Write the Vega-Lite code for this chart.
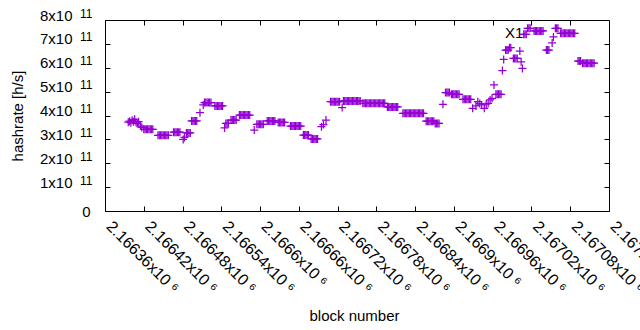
{
"$schema": "https://vega.github.io/schema/vega-lite/v6.json",
"width": 504, "height": 191,
"autosize": {"type": "none"},
"padding": {"left": 105, "top": 20, "right": 31, "bottom": 119},
"config": {
 "view": {"stroke": "black", "strokeWidth": 1},
 "font": "Liberation Sans",
 "axis": {"domain": false, "grid": false, "labelColor": "black", "tickColor": "black", "labelFont": "Liberation Sans", "titleFont": "Liberation Sans", "labelFontSize": 15, "titleFontSize": 15, "titleFontWeight": "normal", "titleColor": "black", "labelOverlap": false, "labelFlush": false}
},
"datasets": {
 "pts": [
{"b":2166396,"h":3.72e11},{"b":2166398,"h":3.76e11},{"b":2166400,"h":3.70e11},{"b":2166402,"h":3.80e11},{"b":2166404,"h":3.74e11},{"b":2166406,"h":3.84e11},{"b":2166408,"h":3.72e11},{"b":2166410,"h":3.66e11},{"b":2166412,"h":3.74e11},
{"b":2166415,"h":3.56e11},{"b":2166417,"h":3.50e11},
{"b":2166420,"h":3.42e11},{"b":2166422,"h":3.42e11},{"b":2166424,"h":3.42e11},{"b":2166426,"h":3.42e11},{"b":2166428,"h":3.42e11},{"b":2166430,"h":3.42e11},{"b":2166432,"h":3.42e11},{"b":2166434,"h":3.42e11},
{"b":2166442,"h":3.17e11},{"b":2166444,"h":3.17e11},{"b":2166446,"h":3.17e11},{"b":2166448,"h":3.17e11},{"b":2166450,"h":3.17e11},{"b":2166452,"h":3.17e11},{"b":2166454,"h":3.17e11},{"b":2166456,"h":3.17e11},{"b":2166458,"h":3.17e11},
{"b":2166466,"h":3.30e11},{"b":2166468,"h":3.30e11},{"b":2166470,"h":3.30e11},{"b":2166472,"h":3.30e11},{"b":2166474,"h":3.30e11},{"b":2166476,"h":3.30e11},
{"b":2166481,"h":3.00e11},{"b":2166483,"h":3.08e11},
{"b":2166486,"h":3.27e11},{"b":2166488,"h":3.27e11},{"b":2166490,"h":3.27e11},{"b":2166492,"h":3.27e11},
{"b":2166494,"h":3.77e11},{"b":2166496,"h":3.77e11},{"b":2166498,"h":3.77e11},{"b":2166500,"h":3.77e11},{"b":2166502,"h":3.77e11},
{"b":2166507,"h":4.12e11},{"b":2166512,"h":4.44e11},
{"b":2166514,"h":4.54e11},{"b":2166516,"h":4.54e11},{"b":2166518,"h":4.54e11},{"b":2166520,"h":4.54e11},{"b":2166522,"h":4.54e11},{"b":2166524,"h":4.54e11},
{"b":2166530,"h":4.40e11},{"b":2166532,"h":4.40e11},{"b":2166534,"h":4.40e11},{"b":2166536,"h":4.40e11},{"b":2166538,"h":4.40e11},{"b":2166540,"h":4.40e11},{"b":2166542,"h":4.40e11},
{"b":2166545,"h":3.48e11},
{"b":2166547,"h":3.67e11},{"b":2166549,"h":3.67e11},{"b":2166551,"h":3.67e11},
{"b":2166555,"h":3.81e11},{"b":2166557,"h":3.81e11},{"b":2166559,"h":3.81e11},{"b":2166561,"h":3.81e11},{"b":2166563,"h":3.81e11},
{"b":2166568,"h":4.02e11},{"b":2166570,"h":4.02e11},{"b":2166572,"h":4.02e11},{"b":2166574,"h":4.02e11},{"b":2166576,"h":4.02e11},{"b":2166578,"h":4.02e11},{"b":2166580,"h":4.02e11},{"b":2166582,"h":4.02e11},{"b":2166584,"h":4.02e11},
{"b":2166591,"h":3.39e11},
{"b":2166595,"h":3.63e11},{"b":2166597,"h":3.63e11},{"b":2166599,"h":3.63e11},{"b":2166601,"h":3.63e11},{"b":2166603,"h":3.63e11},{"b":2166605,"h":3.63e11},
{"b":2166611,"h":3.77e11},{"b":2166613,"h":3.77e11},{"b":2166615,"h":3.77e11},{"b":2166617,"h":3.77e11},{"b":2166619,"h":3.77e11},{"b":2166621,"h":3.77e11},{"b":2166623,"h":3.77e11},
{"b":2166628,"h":3.71e11},{"b":2166630,"h":3.71e11},{"b":2166632,"h":3.71e11},{"b":2166634,"h":3.71e11},{"b":2166636,"h":3.71e11},{"b":2166638,"h":3.71e11},
{"b":2166647,"h":3.56e11},{"b":2166649,"h":3.56e11},{"b":2166651,"h":3.56e11},{"b":2166653,"h":3.56e11},{"b":2166655,"h":3.56e11},{"b":2166657,"h":3.56e11},{"b":2166659,"h":3.56e11},{"b":2166661,"h":3.56e11},{"b":2166663,"h":3.56e11},
{"b":2166667,"h":3.18e11},{"b":2166669,"h":3.18e11},{"b":2166671,"h":3.18e11},{"b":2166673,"h":3.18e11},{"b":2166675,"h":3.18e11},
{"b":2166679,"h":3.02e11},{"b":2166681,"h":3.02e11},{"b":2166683,"h":3.02e11},{"b":2166685,"h":3.02e11},{"b":2166687,"h":3.02e11},{"b":2166689,"h":3.02e11},
{"b":2166695,"h":3.53e11},{"b":2166698,"h":3.62e11},{"b":2166702,"h":3.81e11},
{"b":2166709,"h":4.58e11},{"b":2166711,"h":4.58e11},{"b":2166713,"h":4.58e11},{"b":2166715,"h":4.58e11},{"b":2166717,"h":4.58e11},{"b":2166719,"h":4.58e11},{"b":2166721,"h":4.58e11},{"b":2166723,"h":4.58e11},
{"b":2166727,"h":4.33e11},
{"b":2166729,"h":4.61e11},{"b":2166731,"h":4.61e11},{"b":2166733,"h":4.61e11},{"b":2166735,"h":4.61e11},{"b":2166737,"h":4.61e11},{"b":2166739,"h":4.61e11},{"b":2166741,"h":4.61e11},{"b":2166743,"h":4.61e11},{"b":2166745,"h":4.61e11},{"b":2166747,"h":4.61e11},{"b":2166749,"h":4.61e11},{"b":2166751,"h":4.61e11},{"b":2166753,"h":4.61e11},{"b":2166755,"h":4.61e11},
{"b":2166759,"h":4.51e11},{"b":2166761,"h":4.51e11},{"b":2166763,"h":4.51e11},{"b":2166765,"h":4.51e11},{"b":2166767,"h":4.51e11},{"b":2166769,"h":4.51e11},{"b":2166771,"h":4.51e11},{"b":2166773,"h":4.51e11},{"b":2166775,"h":4.51e11},{"b":2166777,"h":4.51e11},{"b":2166779,"h":4.51e11},{"b":2166781,"h":4.51e11},{"b":2166783,"h":4.51e11},{"b":2166785,"h":4.51e11},{"b":2166787,"h":4.51e11},{"b":2166789,"h":4.51e11},{"b":2166791,"h":4.51e11},{"b":2166793,"h":4.51e11},
{"b":2166797,"h":4.36e11},{"b":2166799,"h":4.36e11},{"b":2166801,"h":4.36e11},{"b":2166803,"h":4.36e11},{"b":2166805,"h":4.36e11},{"b":2166807,"h":4.36e11},{"b":2166809,"h":4.36e11},{"b":2166811,"h":4.36e11},{"b":2166813,"h":4.36e11},
{"b":2166821,"h":4.09e11},{"b":2166823,"h":4.09e11},{"b":2166825,"h":4.09e11},{"b":2166827,"h":4.09e11},{"b":2166829,"h":4.09e11},{"b":2166831,"h":4.09e11},{"b":2166833,"h":4.09e11},{"b":2166835,"h":4.09e11},{"b":2166837,"h":4.09e11},{"b":2166839,"h":4.09e11},{"b":2166841,"h":4.09e11},{"b":2166843,"h":4.09e11},{"b":2166845,"h":4.09e11},{"b":2166847,"h":4.09e11},{"b":2166849,"h":4.09e11},{"b":2166851,"h":4.09e11},{"b":2166853,"h":4.09e11},
{"b":2166857,"h":3.76e11},{"b":2166859,"h":3.76e11},{"b":2166861,"h":3.76e11},{"b":2166863,"h":3.76e11},{"b":2166865,"h":3.76e11},{"b":2166867,"h":3.76e11},{"b":2166869,"h":3.76e11},
{"b":2166871,"h":3.67e11},{"b":2166873,"h":3.67e11},{"b":2166875,"h":3.67e11},{"b":2166877,"h":3.67e11},
{"b":2166883,"h":4.47e11},
{"b":2166887,"h":4.96e11},{"b":2166889,"h":4.96e11},{"b":2166891,"h":4.96e11},{"b":2166893,"h":4.96e11},
{"b":2166896,"h":4.89e11},{"b":2166898,"h":4.89e11},{"b":2166900,"h":4.89e11},{"b":2166902,"h":4.89e11},{"b":2166904,"h":4.89e11},{"b":2166906,"h":4.89e11},{"b":2166908,"h":4.89e11},
{"b":2166914,"h":4.68e11},{"b":2166916,"h":4.68e11},{"b":2166918,"h":4.68e11},{"b":2166920,"h":4.68e11},{"b":2166922,"h":4.68e11},{"b":2166924,"h":4.68e11},{"b":2166926,"h":4.68e11},
{"b":2166929,"h":4.30e11},{"b":2166934,"h":4.40e11},{"b":2166937,"h":4.58e11},{"b":2166940,"h":4.50e11},{"b":2166943,"h":4.44e11},{"b":2166947,"h":4.30e11},{"b":2166950,"h":4.48e11},{"b":2166953,"h":4.51e11},{"b":2166956,"h":4.65e11},{"b":2166959,"h":4.72e11},
{"b":2166962,"h":5.28e11},
{"b":2166965,"h":4.89e11},{"b":2166967,"h":4.89e11},{"b":2166969,"h":4.89e11},{"b":2166971,"h":4.89e11},{"b":2166973,"h":4.89e11},
{"b":2166975,"h":5.88e11},{"b":2166977,"h":6.35e11},
{"b":2166980,"h":6.74e11},{"b":2166982,"h":6.74e11},{"b":2166984,"h":6.74e11},{"b":2166986,"h":6.84e11},{"b":2166988,"h":6.84e11},
{"b":2166992,"h":6.39e11},{"b":2166994,"h":6.39e11},{"b":2166996,"h":6.39e11},{"b":2166998,"h":6.39e11},
{"b":2167002,"h":6.70e11},{"b":2167004,"h":6.25e11},{"b":2167006,"h":5.97e11},
{"b":2167008,"h":7.40e11},{"b":2167010,"h":7.40e11},{"b":2167012,"h":7.40e11},
{"b":2167014,"h":7.65e11},{"b":2167016,"h":7.65e11},{"b":2167018,"h":7.65e11},
{"b":2167024,"h":7.54e11},{"b":2167026,"h":7.54e11},{"b":2167028,"h":7.54e11},{"b":2167030,"h":7.54e11},{"b":2167032,"h":7.54e11},{"b":2167034,"h":7.54e11},{"b":2167036,"h":7.54e11},{"b":2167038,"h":7.54e11},
{"b":2167043,"h":6.74e11},{"b":2167045,"h":6.74e11},{"b":2167047,"h":6.74e11},
{"b":2167052,"h":7.04e11},{"b":2167054,"h":7.29e11},
{"b":2167057,"h":7.65e11},{"b":2167059,"h":7.65e11},{"b":2167061,"h":7.65e11},
{"b":2167065,"h":7.44e11},{"b":2167067,"h":7.44e11},{"b":2167069,"h":7.44e11},{"b":2167071,"h":7.44e11},{"b":2167073,"h":7.44e11},{"b":2167075,"h":7.44e11},{"b":2167077,"h":7.44e11},{"b":2167079,"h":7.44e11},{"b":2167081,"h":7.44e11},{"b":2167083,"h":7.44e11},{"b":2167085,"h":7.44e11},{"b":2167087,"h":7.44e11},
{"b":2167092,"h":6.28e11},{"b":2167094,"h":6.28e11},{"b":2167096,"h":6.28e11},
{"b":2167099,"h":6.19e11},{"b":2167101,"h":6.19e11},{"b":2167103,"h":6.19e11},{"b":2167105,"h":6.19e11},{"b":2167107,"h":6.19e11},{"b":2167109,"h":6.19e11},{"b":2167111,"h":6.19e11},{"b":2167113,"h":6.19e11},{"b":2167115,"h":6.19e11},{"b":2167117,"h":6.19e11}
 ],
 "lbl": [{"b": 2166979, "h": 7.246e11, "t": "X1"}]
},
"layer": [
 {
  "data": {"name": "lbl"},
  "mark": {"type": "text", "align": "left", "baseline": "alphabetic", "fontSize": 15, "font": "Liberation Sans", "color": "black"},
  "encoding": {
   "x": {"field": "b", "type": "quantitative", "scale": {"domain": [2166360, 2167140], "nice": false, "zero": false},
         "axis": {"orient": "top", "labels": false, "title": null, "tickSize": -5, "values": [2166420,2166480,2166540,2166600,2166660,2166720,2166780,2166840,2166900,2166960,2167020,2167080]}},
   "y": {"field": "h", "type": "quantitative", "scale": {"domain": [0, 8e11], "nice": false, "zero": true},
         "axis": {"orient": "left", "ticks": false, "title": null, "values": [0,1e11,2e11,3e11,4e11,5e11,6e11,7e11,8e11],
                  "labelExpr": "datum.value == 0 ? '0' : '11'",
                  "labelFontSize": {"condition": {"test": "datum.value == 0", "value": 15}, "value": 12},
                  "labelPadding": {"condition": {"test": "datum.value == 0", "value": 15}, "value": 13},
                  "labelOffset": {"condition": {"test": "datum.value == 0", "value": 0}, "value": -3},
                  "labelBaseline": {"condition": {"test": "datum.value == 0", "value": "middle"}, "value": "alphabetic"},
                  "labelAlign": "right"}},
   "text": {"field": "t"}
  }
 },
 {
  "data": {"name": "pts"},
  "mark": {"type": "point", "shape": "M-1,0L1,0M0,-1L0,1", "size": 64, "filled": false, "stroke": "#9400d3", "strokeWidth": 1.25, "opacity": 1},
  "encoding": {
   "x": {"field": "b", "type": "quantitative",
         "axis": {"orient": "bottom", "tickSize": -5, "values": [2166360,2166420,2166480,2166540,2166600,2166660,2166720,2166780,2166840,2166900,2166960,2167020,2167080,2167140],
                  "labelAngle": 45, "labelAlign": "left", "labelBaseline": "alphabetic", "labelPadding": 21, "labelDy": 4, "labelFontSize": 16,
                  "labelExpr": "format(datum.value / 1e6, '.5~f') + 'x10 ⁶'",
                  "title": "block number", "titleBaseline": "alphabetic", "titleY": 109, "titleX": 249}},
   "y": {"field": "h", "type": "quantitative",
         "axis": {"orient": "left", "tickSize": -5, "values": [0,1e11,2e11,3e11,4e11,5e11,6e11,7e11,8e11],
                  "labelExpr": "datum.value == 0 ? '' : format(datum.value / 1e11, 'd') + 'x10'",
                  "labelPadding": 38, "labelBaseline": "alphabetic", "labelDy": 4, "labelAlign": "right",
                  "title": "hashrate [h/s]", "titleX": -83, "titleBaseline": "alphabetic"}}
  }
 },
 {
  "data": {"name": "lbl"},
  "mark": {"type": "point", "opacity": 0},
  "encoding": {
   "x": {"field": "b", "type": "quantitative", "axis": null},
   "y": {"field": "h", "type": "quantitative", "axis": {"orient": "right", "labels": false, "title": null, "tickSize": -5, "values": [1e11,2e11,3e11,4e11,5e11,6e11,7e11]}}
  }
 }
],
"resolve": {"axis": {"x": "independent", "y": "independent"}}
}
